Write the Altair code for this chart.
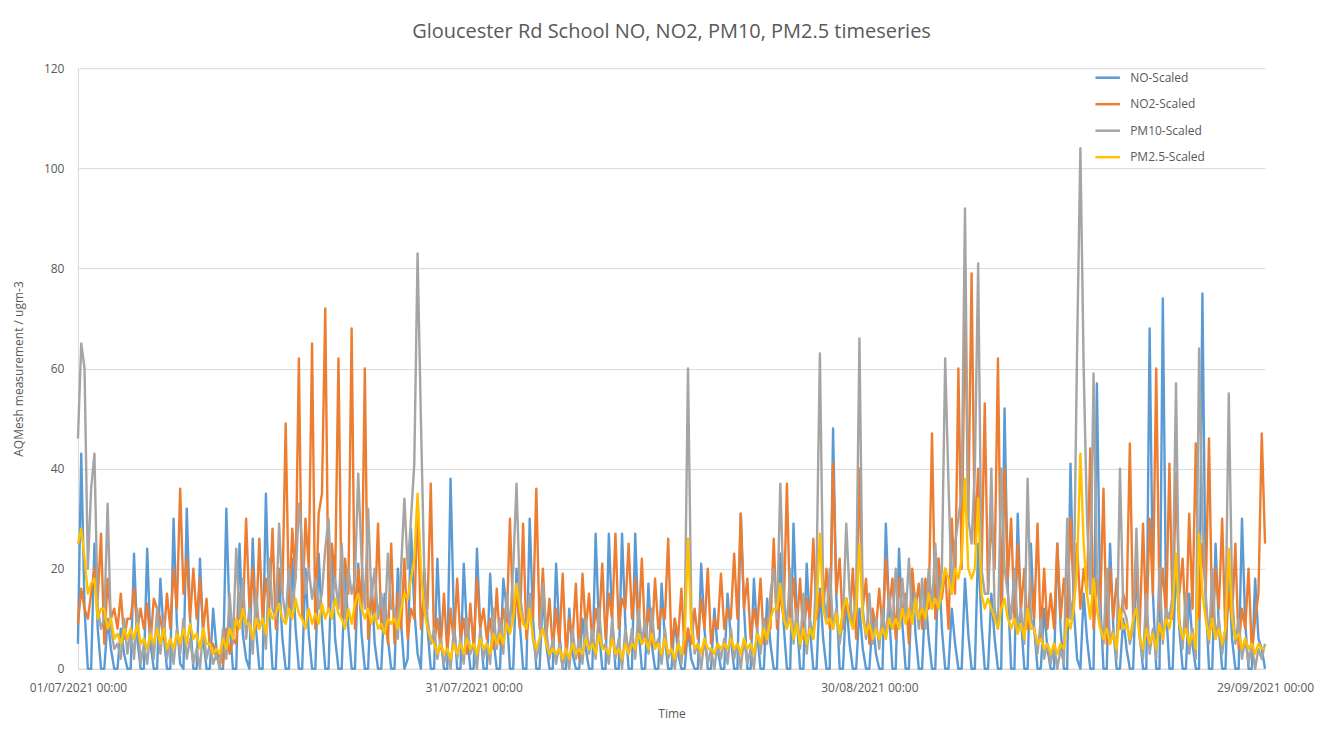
import altair as alt
import pandas as pd

SERIES = ["NO-Scaled", "NO2-Scaled", "PM10-Scaled", "PM2.5-Scaled"]
COLORS = ["#5B9BD5", "#ED7D31", "#A5A5A5", "#FFC000"]

# 6-hourly readings (00, 06, 12, 18 h) from 01/07/2021 to 29/09/2021 00:00
NO = [
    5, 43, 12, 0,  0, 25, 8, 0,  0, 10, 4, 0,  0, 8, 3, 0,  0, 23, 6, 0,
    0, 24, 5, 0,  0, 18, 7, 0,  0, 30, 9, 1,  0, 32, 10, 0,  0, 22, 6, 0,
    0, 12, 4, 0,  0, 32, 9, 0,  0, 25, 7, 2,  0, 26, 8, 0,  0, 35, 11, 0,
    0, 18, 6, 0,  0, 22, 8, 0,  0, 20, 7, 0,  0, 23, 9, 0,  0, 22, 6, 0,
    0, 20, 8, 0,  0, 21, 7, 0,  0, 18, 5, 0,  0, 15, 6, 0,  0, 20, 9, 0,
    2, 28, 12, 3,  0, 20, 8, 0,  0, 22, 6, 0,  0, 38, 10, 0,  0, 21, 7, 0,
    0, 24, 8, 0,  0, 19, 6, 0,  0, 18, 12, 0,  0, 20, 9, 0,  0, 30, 10, 0,
    0, 15, 5, 0,  0, 21, 7, 0,  0, 12, 3, 0,  0, 10, 4, 0,  0, 27, 8, 0,
    0, 27, 10, 0,  0, 27, 9, 0,  0, 27, 8, 0,  0, 17, 5, 0,  0, 17, 6, 0,
    0, 10, 3, 0,  0, 8, 2, 0,  0, 21, 8, 0,  0, 12, 4, 0,  0, 15, 6, 0,
    0, 31, 12, 0,  0, 18, 7, 0,  0, 14, 5, 0,  0, 23, 9, 0,  0, 29, 10, 0,
    0, 21, 8, 0,  0, 16, 6, 0,  0, 48, 14, 0,  0, 14, 5, 0,  0, 12, 4, 0,
    0, 10, 3, 0,  0, 29, 11, 0,  0, 24, 9, 0,  0, 19, 7, 0,  0, 15, 6, 0,
    0, 22, 8, 0,  0, 12, 5, 0,  0, 18, 7, 0,  0, 25, 9, 0,  0, 15, 6, 0,
    0, 52, 16, 0,  0, 31, 10, 0,  0, 25, 8, 0,  0, 12, 4, 0,  0, 25, 8, 0,
    0, 41, 12, 2,  0, 15, 6, 0,  0, 57, 14, 0,  0, 25, 8, 0,  0, 10, 4, 0,
    0, 20, 7, 0,  0, 68, 15, 0,  0, 74, 12, 0,  0, 22, 8, 0,  0, 15, 5, 0,
    0, 75, 14, 0,  0, 25, 8, 0,  0, 20, 6, 0,  0, 30, 9, 0,  0, 18, 6, 4,
    0,
]

NO2 = [
    9, 16, 12, 10,  15, 20, 14, 27,  5, 18, 10, 12,  8, 15, 6, 10,  10, 16, 8, 12,
    8, 13, 5, 14,  12, 10, 6, 15,  8, 20, 12, 36,  15, 22, 10, 20,  10, 18, 8, 14,
    4, 5, 2, 3,  1, 8, 3, 6,  5, 15, 10, 30,  12, 20, 8, 26,  10, 18, 12, 28,
    8, 20, 15, 49,  12, 28, 18, 62,  10, 30, 20, 65,  8, 31, 35, 72,  12, 25, 18, 62,
    10, 22, 15, 68,  8, 20, 12, 60,  6, 15, 10, 29,  8, 12, 5, 25,  5, 15, 8, 22,
    6, 12, 10, 34,  8, 15, 12, 37,  5, 10, 4, 15,  3, 12, 5, 18,  6, 10, 3, 13,
    4, 18, 8, 12,  6, 10, 4, 16,  5, 12, 8, 30,  10, 15, 8, 29,  6, 12, 10, 36,
    8, 20, 6, 14,  4, 12, 5, 19,  3, 10, 6, 17,  2, 19, 8, 15,  5, 12, 8, 21,
    6, 15, 10, 27,  8, 14, 12, 25,  10, 18, 8, 22,  6, 12, 5, 18,  8, 12, 10, 26,
    4, 10, 6, 16,  3, 8, 5, 12,  6, 14, 8, 20,  5, 10, 8, 19,  8, 12, 10, 23,
    10, 31, 12, 18,  6, 12, 8, 18,  5, 10, 8, 26,  8, 15, 10, 37,  10, 18, 8, 18,
    6, 14, 10, 26,  10, 15, 12, 20,  8, 41, 15, 22,  8, 14, 10, 20,  6, 40, 12, 18,
    5, 12, 8, 16,  8, 22, 12, 18,  6, 18, 10, 15,  5, 20, 12, 17,  8, 18, 12, 47,
    10, 22, 14, 20,  8, 30, 15, 60,  20, 75, 30, 79,  25, 40, 18, 53,  15, 30, 20, 62,
    12, 40, 18, 30,  10, 25, 12, 20,  8, 18, 10, 29,  6, 20, 8, 15,  8, 25, 10, 18,
    10, 30, 15, 25,  12, 20, 15, 44,  8, 18, 12, 36,  5, 20, 10, 18,  8, 15, 12, 45,
    10, 20, 8, 29,  8, 30, 15, 60,  12, 20, 10, 41,  10, 39, 15, 22,  8, 31, 12, 45,
    10, 25, 15, 46,  8, 20, 12, 30,  6, 15, 10, 25,  4, 12, 8, 20,  3, 10, 15, 47,
    25,
]

PM10 = [
    46, 65, 60, 20,  36, 43, 12, 8,  10, 33, 8, 4,  5, 2, 10, 3,  8, 2, 12, 1,
    5, 1, 8, 2,  12, 3, 10, 2,  6, 1, 8, 3,  10, 2, 6, 1,  4, 0, 8, 2,
    5, 1, 3, 0,  8, 2, 15, 5,  24, 10, 18, 6,  12, 3, 15, 8,  10, 4, 22, 12,
    10, 29, 15, 10,  20, 12, 18, 33,  25, 15, 20, 14,  18, 12, 15, 24,  30, 14, 18, 12,
    25, 10, 20, 15,  18, 39, 22, 12,  32, 14, 20, 10,  15, 8, 23, 12,  12, 6, 20, 34,
    20, 30, 41, 83,  50, 20, 10, 5,  8, 2, 6, 1,  4, 0, 8, 2,  6, 1, 10, 3,
    5, 0, 8, 2,  5, 1, 12, 4,  10, 3, 15, 8,  20, 37, 15, 10,  8, 15, 6, 2,
    5, 17, 8, 2,  6, 1, 5, 0,  4, 0, 8, 2,  6, 1, 10, 3,  8, 2, 12, 4,
    5, 1, 10, 2,  6, 0, 8, 3,  8, 2, 12, 5,  10, 3, 12, 4,  6, 1, 8, 2,
    4, 0, 6, 1,  8, 60, 12, 3,  5, 0, 6, 1,  4, 0, 5, 2,  6, 1, 8, 2,
    5, 0, 6, 1,  4, 0, 8, 3,  10, 5, 15, 20,  10, 37, 15, 8,  20, 5, 12, 4,
    15, 3, 10, 6,  20, 63, 15, 10,  20, 8, 12, 5,  10, 29, 15, 8,  15, 66, 12, 6,
    15, 5, 10, 4,  12, 6, 15, 8,  20, 8, 18, 10,  22, 10, 15, 8,  18, 8, 20, 12,
    25, 12, 20, 62,  37, 15, 25, 30,  35, 92, 30, 25,  40, 81, 20, 15,  15, 40, 12, 8,
    40, 20, 15, 10,  20, 8, 12, 5,  38, 10, 8, 3,  10, 2, 5, 1,  5, 0, 4, 1,
    30, 10, 15, 64,  104, 60, 30, 15,  59, 20, 10, 5,  20, 5, 8, 2,  40, 12, 10, 5,
    8, 28, 6, 2,  15, 3, 8, 2,  20, 5, 12, 10,  15, 57, 10, 4,  15, 3, 8, 2,
    64, 30, 15, 5,  20, 6, 10, 3,  8, 55, 15, 5,  10, 2, 6, 1,  5, 0, 4, 2,
    5,
]

PM25 = [
    25, 28, 22, 15,  17, 18, 10, 12,  12, 8, 10, 6,  7, 5, 8, 6,  8, 6, 9, 5,
    6, 4, 7, 5,  8, 5, 8, 4,  6, 4, 7, 5,  8, 5, 9, 6,  7, 4, 8, 5,
    5, 3, 4, 3,  6, 4, 8, 6,  10, 8, 12, 9,  9, 6, 10, 8,  10, 7, 12, 10,
    11, 13, 10, 9,  12, 10, 14, 11,  10, 8, 12, 9,  11, 9, 13, 10,  12, 10, 14, 11,
    10, 8, 12, 9,  13, 15, 12, 10,  12, 9, 11, 8,  9, 7, 10, 9,  10, 8, 12, 15,
    14, 18, 22, 35,  20, 12, 8, 6,  5, 3, 5, 3,  4, 2, 5, 3,  5, 3, 6, 4,
    5, 3, 6, 4,  5, 3, 7, 5,  7, 5, 9, 7,  10, 17, 12, 9,  8, 12, 6, 4,
    6, 8, 5, 3,  4, 3, 4, 2,  4, 2, 5, 3,  4, 3, 6, 4,  5, 3, 7, 4,
    4, 3, 6, 3,  4, 2, 5, 3,  5, 4, 7, 5,  6, 4, 7, 4,  5, 3, 6, 3,
    4, 2, 5, 3,  6, 26, 8, 4,  5, 3, 6, 4,  4, 3, 5, 4,  5, 4, 6, 4,
    5, 3, 6, 4,  5, 3, 7, 5,  8, 6, 10, 12,  12, 17, 10, 8,  10, 6, 9, 5,
    8, 5, 8, 6,  12, 27, 12, 9,  10, 8, 11, 7,  12, 14, 10, 8,  12, 25, 10, 7,
    9, 6, 8, 6,  8, 6, 10, 8,  10, 8, 12, 9,  12, 9, 14, 10,  12, 10, 15, 12,
    14, 12, 16, 20,  18, 15, 20, 18,  22, 38, 20, 18,  20, 34, 15, 12,  14, 12, 10, 8,
    12, 14, 10, 8,  10, 7, 9, 6,  12, 8, 8, 5,  6, 4, 5, 3,  5, 3, 5, 4,
    10, 8, 12, 20,  43, 25, 15, 10,  18, 12, 8, 6,  8, 5, 7, 4,  12, 8, 9, 6,
    10, 12, 6, 4,  8, 5, 7, 4,  9, 6, 10, 8,  12, 23, 9, 6,  8, 5, 7, 4,
    27, 15, 10, 6,  10, 6, 8, 5,  8, 24, 10, 6,  7, 4, 6, 4,  5, 3, 5, 4,
    4,
]

times = pd.date_range("2021-07-01 00:00", periods=len(NO), freq="6h").strftime("%Y-%m-%dT%H:%M:%S")

rows = []
for name, vals in zip(SERIES, [NO, NO2, PM10, PM25]):
    for t, v in zip(times, vals):
        rows.append({"Time": t, "Series": name, "Value": v})
df = pd.DataFrame(rows)

FONT = "Open Sans"
GREY = "#595959"
W, H = 1188, 601

tick_dates = [
    alt.DateTime(year=2021, month=7, date=1),
    alt.DateTime(year=2021, month=7, date=31),
    alt.DateTime(year=2021, month=8, date=30),
    alt.DateTime(year=2021, month=9, date=29),
]

chart = (
    alt.Chart(df)
    .mark_line(strokeWidth=2.4, strokeJoin="round")
    .encode(
        x=alt.X(
            "Time:T",
            title="Time",
            scale=alt.Scale(domain=[tick_dates[0], tick_dates[-1]], nice=False),
            axis=alt.Axis(
                values=tick_dates,
                format="%d/%m/%Y %H:%M",
                grid=False,
                ticks=False,
                labelFlush=False,
                domainColor="#d9d9d9",
                labelPadding=14,
                labelFontSize=12,
                labelColor=GREY,
                titleFontSize=12,
                titleColor=GREY,
                titleFontWeight="normal",
                titlePadding=15,
            ),
        ),
        y=alt.Y(
            "Value:Q",
            title="AQMesh measurement / ugm-3",
            scale=alt.Scale(domain=[0, 120], nice=False),
            axis=alt.Axis(
                values=[0, 20, 40, 60, 80, 100, 120],
                ticks=False,
                domain=True,
                domainColor="#d9d9d9",
                gridColor="#d9d9d9",
                labelPadding=14,
                labelFontSize=12,
                labelColor=GREY,
                titleFontSize=12,
                titleColor=GREY,
                titleFontWeight="normal",
                titlePadding=18,
            ),
        ),
        color=alt.Color(
            "Series:N",
            scale=alt.Scale(domain=SERIES, range=COLORS),
            legend=alt.Legend(
                title=None,
                orient="none",
                legendX=1017,
                legendY=-4,
                symbolType="stroke",
                symbolSize=600,
                symbolStrokeWidth=2.5,
                labelFontSize=12,
                labelColor=GREY,
                labelOffset=9,
                rowPadding=6.5,
            ),
        ),
        order=alt.Order("Time:T"),
    )
    .properties(
        width=W,
        height=H,
        title=alt.TitleParams(
            "Gloucester Rd School NO, NO2, PM10, PM2.5 timeseries",
            fontSize=20,
            font=FONT,
            fontWeight="normal",
            color=GREY,
            anchor="middle",
            offset=20,
        ),
        autosize=alt.AutoSizeParams(type="none"),
        padding={"left": 70, "top": 60, "right": 60, "bottom": 60},
    )
    .configure(font=FONT)
    .configure_view(stroke=None)
)

chart.save("out.html", embed_options={"renderer": "svg", "actions": False})
